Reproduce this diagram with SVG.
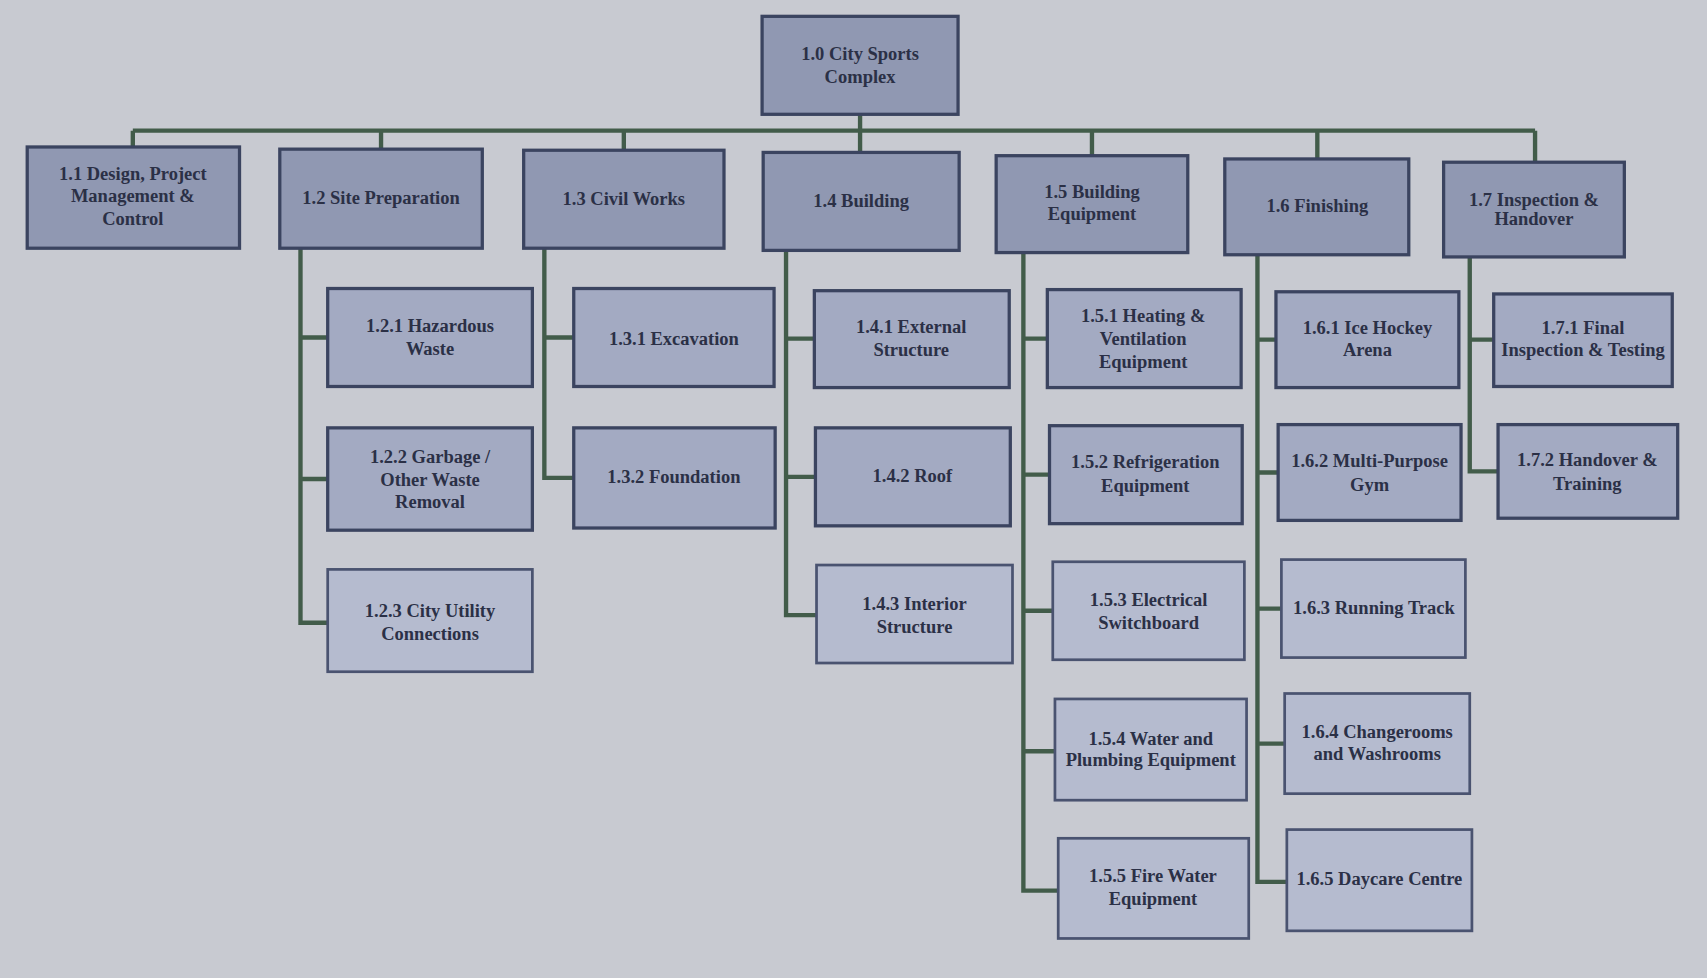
<svg xmlns="http://www.w3.org/2000/svg" width="1707" height="978" viewBox="0 0 1707 978">
<style>
.b{fill:#9098b2;stroke:#3b4460;stroke-width:3}
.c{fill:#a3aac2;stroke:#3b4460;stroke-width:3}
.l{fill:#b5bbcf;stroke:#4a5370;stroke-width:2.5}
text{font-family:"Liberation Serif",serif;font-weight:bold;font-size:17px;fill:#2b3046;text-anchor:middle}
.k path{fill:none;stroke:#425c4a;stroke-width:4}
</style>
<rect width="1707" height="978" fill="#c8cad1"/>
<g transform="scale(1.0887)">
<g class="k">
<path d="M790 105V120M122 120H1410M122 120V135M350 120V137M573 120V138M790 120V140M1003 120V143M1210 120V146M1410 120V149"/>
<path d="M276 228V572H301M276 310H301M276 440H301"/>
<path d="M500 228V439H527M500 310H527"/>
<path d="M722 230V565H750M722 311H748M722 438H750"/>
<path d="M940 232V818H972M940 311H962M940 436H964M940 561H967M940 690H969"/>
<path d="M1155 234V810H1182M1155 312H1172M1155 434H1174M1155 559H1177M1155 683H1180"/>
<path d="M1350 236V433H1376M1350 312H1372"/>
</g>
<g id="n10"><rect class="b" x="700" y="15" width="180" height="90"/><text x="790" y="55">1.0 City Sports</text><text x="790" y="76">Complex</text></g>
<g id="n11"><rect class="b" x="25" y="135" width="195" height="93"/><text x="122" y="165">1.1 Design, Project</text><text x="122" y="186">Management &amp;</text><text x="122" y="207">Control</text></g>
<g id="n12"><rect class="b" x="257" y="137" width="186" height="91"/><text x="350" y="187">1.2 Site Preparation</text></g>
<g id="n13"><rect class="b" x="481" y="138" width="184" height="90"/><text x="573" y="188">1.3 Civil Works</text></g>
<g id="n14"><rect class="b" x="701" y="140" width="180" height="90"/><text x="791" y="190">1.4 Building</text></g>
<g id="n15"><rect class="b" x="915" y="143" width="176" height="89"/><text x="1003" y="182">1.5 Building</text><text x="1003" y="202">Equipment</text></g>
<g id="n16"><rect class="b" x="1125" y="146" width="169" height="88"/><text x="1210" y="195">1.6 Finishing</text></g>
<g id="n17"><rect class="b" x="1326" y="149" width="166" height="87"/><text x="1409" y="189">1.7 Inspection &amp;</text><text x="1409" y="207">Handover</text></g>

<g id="n121"><rect class="c" x="301" y="265" width="188" height="90"/><text x="395" y="305">1.2.1 Hazardous</text><text x="395" y="326">Waste</text></g>
<g id="n122"><rect class="c" x="301" y="393" width="188" height="94"/><text x="395" y="425">1.2.2 Garbage /</text><text x="395" y="446">Other Waste</text><text x="395" y="467">Removal</text></g>
<g id="n123"><rect class="l" x="301" y="523" width="188" height="94"/><text x="395" y="567">1.2.3 City Utility</text><text x="395" y="588">Connections</text></g>
<g id="n131"><rect class="c" x="527" y="265" width="184" height="90"/><text x="619" y="317">1.3.1 Excavation</text></g>
<g id="n132"><rect class="c" x="527" y="393" width="185" height="92"/><text x="619" y="444">1.3.2 Foundation</text></g>
<g id="n141"><rect class="c" x="748" y="267" width="179" height="89"/><text x="837" y="306">1.4.1 External</text><text x="837" y="327">Structure</text></g>
<g id="n142"><rect class="c" x="749" y="393" width="179" height="90"/><text x="838" y="443">1.4.2 Roof</text></g>
<g id="n143"><rect class="l" x="750" y="519" width="180" height="90"/><text x="840" y="560">1.4.3 Interior</text><text x="840" y="581">Structure</text></g>
<g id="n151"><rect class="c" x="962" y="266" width="178" height="90"/><text x="1050" y="296">1.5.1 Heating &amp;</text><text x="1050" y="317">Ventilation</text><text x="1050" y="338">Equipment</text></g>
<g id="n152"><rect class="c" x="964" y="391" width="177" height="90"/><text x="1052" y="430">1.5.2 Refrigeration</text><text x="1052" y="452">Equipment</text></g>
<g id="n153"><rect class="l" x="967" y="516" width="176" height="90"/><text x="1055" y="557">1.5.3 Electrical</text><text x="1055" y="578">Switchboard</text></g>
<g id="n154"><rect class="l" x="969" y="642" width="176" height="93"/><text x="1057" y="684">1.5.4 Water and</text><text x="1057" y="704">Plumbing Equipment</text></g>
<g id="n155"><rect class="l" x="972" y="770" width="175" height="92"/><text x="1059" y="810">1.5.5 Fire Water</text><text x="1059" y="831">Equipment</text></g>
<g id="n161"><rect class="c" x="1172" y="268" width="168" height="88"/><text x="1256" y="307">1.6.1 Ice Hockey</text><text x="1256" y="327">Arena</text></g>
<g id="n162"><rect class="c" x="1174" y="390" width="168" height="88"/><text x="1258" y="429">1.6.2 Multi-Purpose</text><text x="1258" y="451">Gym</text></g>
<g id="n163"><rect class="l" x="1177" y="514" width="169" height="90"/><text x="1262" y="564">1.6.3 Running Track</text></g>
<g id="n164"><rect class="l" x="1180" y="637" width="170" height="92"/><text x="1265" y="678">1.6.4 Changerooms</text><text x="1265" y="698">and Washrooms</text></g>
<g id="n165"><rect class="l" x="1182" y="762" width="170" height="93"/><text x="1267" y="813">1.6.5 Daycare Centre</text></g>
<g id="n171"><rect class="c" x="1372" y="270" width="164" height="85"/><text x="1454" y="307">1.7.1 Final</text><text x="1454" y="327">Inspection &amp; Testing</text></g>
<g id="n172"><rect class="c" x="1376" y="390" width="165" height="86"/><text x="1458" y="428">1.7.2 Handover &amp;</text><text x="1458" y="450">Training</text></g>
</g>
</svg>
